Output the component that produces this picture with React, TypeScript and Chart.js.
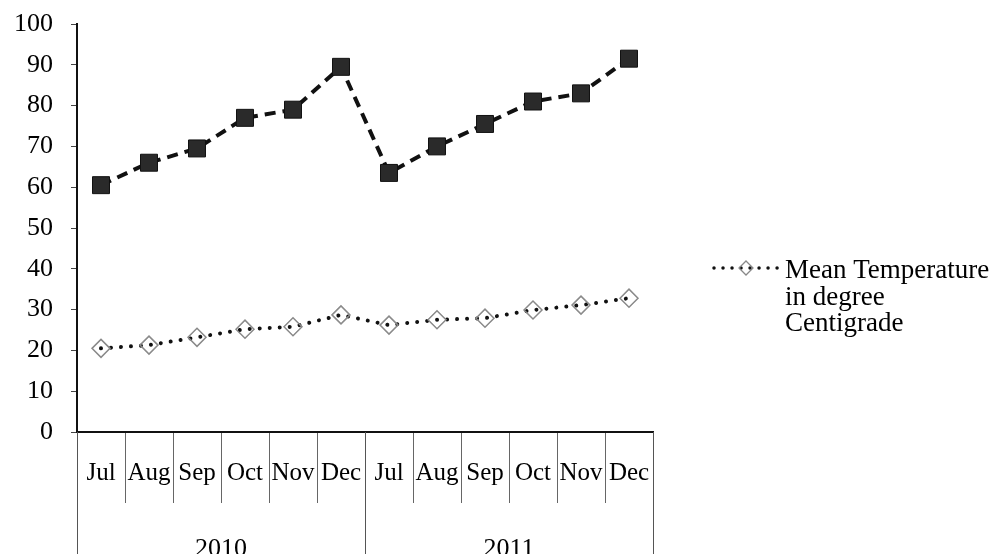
import React, { useEffect, useRef } from "react";
import { Chart, registerables } from "chart.js";

Chart.register(...registerables);

const monthLabels = ["Jul", "Aug", "Sep", "Oct", "Nov", "Dec", "Jul", "Aug", "Sep", "Oct", "Nov", "Dec"];
const yearLabels = ["2010", "2011"];
const monthsPerYear = 6;
const humidityValues = [60.5, 66, 69.5, 77, 79, 89.5, 63.5, 70, 75.5, 81, 83, 91.5];
const temperatureValues = [20.5, 21.3, 23.2, 25.2, 25.8, 28.7, 26.2, 27.5, 27.9, 29.9, 31.1, 32.8];
const temperatureLegend = ["Mean Temperature", "in degree", "Centigrade"];

const SERIF = '"Liberation Serif", "Times New Roman", serif';

const multiLevelPlugin = {
  id: "multiLevel",
  afterDraw(chart: any) {
    const { ctx } = chart;
    const x = chart.scales.x;
    const half = (x.getPixelForValue(1) - x.getPixelForValue(0)) / 2;
    const axisY = x.top;
    ctx.save();
    // month labels
    ctx.font = `25px ${SERIF}`;
    ctx.fillStyle = "#000";
    ctx.textAlign = "center";
    ctx.textBaseline = "alphabetic";
    monthLabels.forEach((m, i) => {
      ctx.fillText(m, x.getPixelForValue(i), 480);
    });
    // year dividers
    ctx.strokeStyle = "#555";
    ctx.lineWidth = 1;
    for (let g = 0; g <= yearLabels.length; g++) {
      const idx = g * monthsPerYear;
      const px = Math.round(x.getPixelForValue(idx) - half) + 0.5;
      ctx.beginPath();
      ctx.moveTo(px, axisY);
      ctx.lineTo(px, chart.height);
      ctx.stroke();
    }
    // year labels
    ctx.font = `26px ${SERIF}`;
    yearLabels.forEach((yr, g) => {
      const a = x.getPixelForValue(g * monthsPerYear);
      const b = x.getPixelForValue(g * monthsPerYear + monthsPerYear - 1);
      ctx.fillText(yr, (a + b) / 2, 556);
    });
    // legend
    const ly = 268;
    ctx.strokeStyle = "#111";
    ctx.lineWidth = 3.5;
    ctx.lineCap = "round";
    ctx.setLineDash([0.01, 9]);
    ctx.beginPath();
    ctx.moveTo(714, ly);
    ctx.lineTo(778, ly);
    ctx.stroke();
    ctx.setLineDash([]);
    ctx.lineWidth = 1.3;
    ctx.strokeStyle = "#888";
    const dx = 746, r = 7;
    ctx.beginPath();
    ctx.moveTo(dx, ly - r);
    ctx.lineTo(dx + r, ly);
    ctx.lineTo(dx, ly + r);
    ctx.lineTo(dx - r, ly);
    ctx.closePath();
    ctx.stroke();
    ctx.font = `27px ${SERIF}`;
    ctx.textAlign = "left";
    ctx.fillStyle = "#000";
    temperatureLegend.forEach((t, i) => {
      ctx.fillText(t, 785, 278 + i * 26.5);
    });
    ctx.restore();
  },
};

export default function App() {
  const canvasRef = useRef<HTMLCanvasElement | null>(null);

  useEffect(() => {
    if (!canvasRef.current) return;
    const chart = new Chart(canvasRef.current, {
      type: "line",
      data: {
        labels: monthLabels,
        datasets: [
          {
            label: "Series 1",
            data: humidityValues,
            borderColor: "#111",
            borderWidth: 4,
            borderDash: [11, 7],
            pointStyle: "rect",
            pointRadius: 12,
            pointHoverRadius: 12,
            pointBackgroundColor: "#2a2a2a",
            pointBorderColor: "#111",
            pointBorderWidth: 1,
            tension: 0,
            fill: false,
          },
          {
            label: "Mean Temperature in degree Centigrade",
            data: temperatureValues,
            borderColor: "#111",
            borderWidth: 4,
            borderDash: [0.01, 10],
            borderCapStyle: "round",
            pointStyle: "rectRot",
            pointRadius: 9,
            pointHoverRadius: 9,
            pointBackgroundColor: "rgba(0,0,0,0)",
            pointBorderColor: "#8a8a8a",
            pointBorderWidth: 1.5,
            tension: 0,
            fill: false,
          },
        ],
      },
      options: {
        responsive: false,
        animation: false,
        devicePixelRatio: 1,
        layout: { padding: { top: 24, right: 353, left: 0, bottom: 0 } },
        plugins: { legend: { display: false }, tooltip: { enabled: false } },
        scales: {
          x: {
            type: "category",
            offset: true,
            ticks: { display: false },
            grid: {
              display: true,
              offset: true,
              drawOnChartArea: false,
              drawTicks: true,
              tickLength: 71,
              color: "#666",
              lineWidth: 1,
            },
            border: { display: true, color: "#111", width: 2 },
            afterFit: (scale: any) => {
              scale.height = 122;
              scale.paddingLeft = 0;
              scale.paddingRight = 0;
            },
          },
          y: {
            min: 0,
            max: 100,
            ticks: {
              stepSize: 10,
              color: "#000",
              padding: 18,
              font: { family: SERIF, size: 26 },
            },
            grid: {
              drawOnChartArea: false,
              drawTicks: true,
              tickLength: 6,
              color: "#444",
            },
            border: { display: true, color: "#111", width: 2 },
            afterFit: (scale: any) => {
              scale.width = 77;
              scale.paddingTop = 0;
              scale.paddingBottom = 0;
            },
          },
        },
      },
      plugins: [multiLevelPlugin],
    });
    return () => chart.destroy();
  }, []);

  return (
    <div style={{ position: "absolute", left: 0, top: 0, width: 1006, height: 554, background: "#fff" }}>
      <canvas ref={canvasRef} width={1006} height={554} style={{ display: "block" }} />
    </div>
  );
}
